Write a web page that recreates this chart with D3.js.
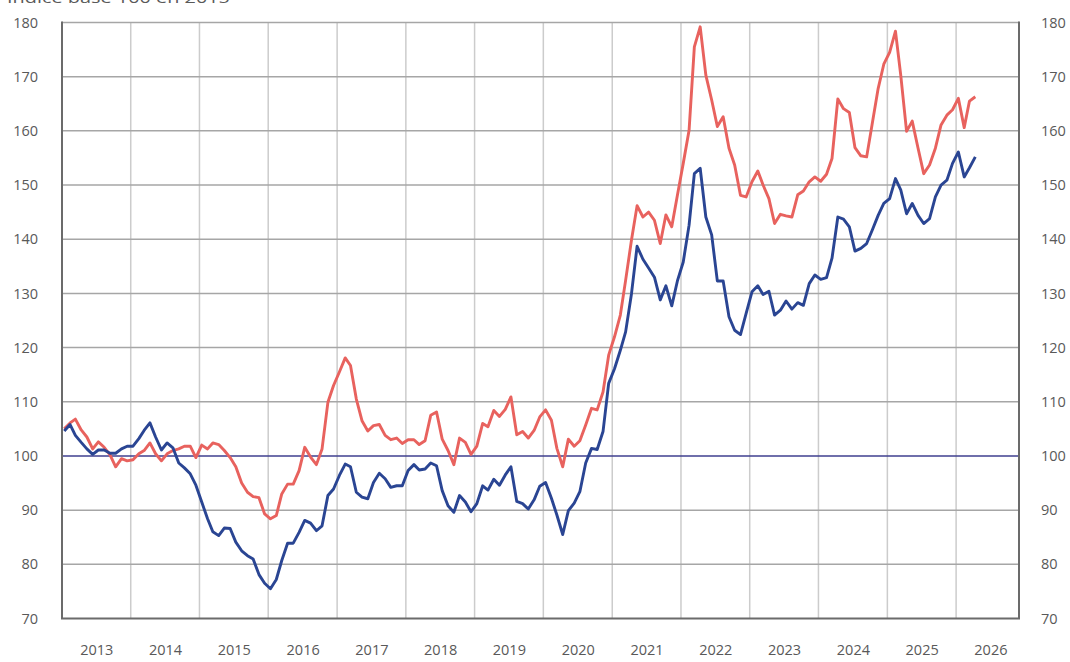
<!DOCTYPE html>
<html>
<head>
<meta charset="utf-8">
<script src="https://cdn.jsdelivr.net/npm/d3@7"></script>
<style>
  html, body { margin: 0; padding: 0; background: #fff; }
  svg { display: block; }
  text { font-family: "Open Sans", "Noto Sans", sans-serif; }
</style>
</head>
<body>
<svg id="chart" width="1070" height="662"></svg>
<script>
// ---- Data (monthly, starting January 2013) ----
const startYear = 2013;
const yearLabels = ["2013","2014","2015","2016","2017","2018","2019","2020","2021","2022","2023","2024","2025","2026"];
const yTicks = [70, 80, 90, 100, 110, 120, 130, 140, 150, 160, 170, 180];
const titleText = "Indice base 100 en 2015";

const blueValues = [
  104.6,105.8,103.8,102.5,101.3,100.3,101.1,101.1,100.5,100.5,101.3,101.8, // 2013
  101.8,103.2,104.7,106.1,103.5,101.1,102.4,101.5,98.7,97.8,96.7,94.6,     // 2014
  91.5,88.4,86.0,85.3,86.7,86.6,84.1,82.5,81.6,81.0,78.1,76.5,             // 2015
  75.5,77.2,80.7,83.9,83.9,85.9,88.1,87.6,86.2,87.1,92.7,93.9,             // 2016
  96.4,98.5,98.0,93.3,92.4,92.1,95.1,96.8,95.8,94.2,94.5,94.5,             // 2017
  97.3,98.4,97.4,97.6,98.7,98.2,93.6,90.8,89.6,92.7,91.5,89.7,             // 2018
  91.2,94.5,93.7,95.7,94.6,96.5,98.0,91.6,91.2,90.2,91.9,94.4,             // 2019
  95.1,92.2,89.1,85.5,89.9,91.3,93.4,98.7,101.4,101.2,104.5,113.4,         // 2020
  116.1,119.5,122.9,129.9,138.7,136.3,134.7,133.0,128.8,131.4,127.7,132.3, // 2021
  135.8,142.6,152.1,153.1,144.1,140.8,132.3,132.3,125.7,123.2,122.4,126.3, // 2022
  130.3,131.4,129.8,130.4,126.0,126.9,128.6,127.1,128.3,127.8,131.8,133.4, // 2023
  132.6,132.9,136.5,144.1,143.7,142.3,137.8,138.3,139.2,141.7,144.4,146.6, // 2024
  147.5,151.2,149.1,144.7,146.6,144.4,142.9,143.8,147.8,150.0,150.9,154.0, // 2025
  156.1,151.5,153.2,155.2                                                  // 2026
];

const redValues = [
  105.0,106.1,106.8,104.8,103.5,101.3,102.6,101.6,100.2,98.0,99.5,99.1,    // 2013
  99.3,100.4,101.0,102.4,100.4,99.1,100.4,101.0,101.3,101.8,101.8,99.7,    // 2014
  102.0,101.3,102.4,102.1,101.0,99.7,98.0,95.0,93.3,92.5,92.3,89.3,        // 2015
  88.4,89.0,93.0,94.8,94.8,97.3,101.6,99.8,98.4,101.3,109.9,113.0,         // 2016
  115.5,118.1,116.7,110.5,106.5,104.6,105.6,105.8,103.8,103.0,103.3,102.3, // 2017
  103.0,103.0,102.1,102.8,107.5,108.1,103.1,101.0,98.4,103.3,102.5,100.3,  // 2018
  101.8,106.0,105.4,108.4,107.3,108.6,110.9,103.9,104.5,103.3,104.7,107.2, // 2019
  108.5,106.6,101.4,98.0,103.1,101.8,102.8,105.7,108.8,108.5,111.8,118.6,  // 2020
  122.0,126.0,132.4,139.8,146.2,144.1,145.0,143.5,139.2,144.5,142.3,148.1, // 2021
  154.0,160.1,175.5,179.2,170.3,165.7,160.8,162.6,156.8,153.7,148.1,147.8, // 2022
  150.6,152.6,150.0,147.5,142.9,144.6,144.3,144.1,148.2,148.9,150.6,151.5, // 2023
  150.7,152.0,154.9,165.9,164.1,163.4,156.9,155.4,155.2,161.4,167.8,172.3, // 2024
  174.5,178.4,170.3,159.9,161.8,156.8,152.1,153.7,156.8,161.1,162.9,163.9, // 2025
  166.0,160.6,165.5,166.3                                                  // 2026
];

// ---- Layout ----
const svg = d3.select("#chart");
const mLeft = 62, mRight = 1019, mTop = 22.5, mBottom = 618.5;

const x = d3.scaleTime()
  .domain([new Date(2013, 0, 1), new Date(2026, 11, 1)])
  .range([mLeft, mRight]);
const y = d3.scaleLinear().domain([70, 180]).range([mBottom, mTop]);

const dateOf = i => new Date(startYear + Math.floor(i / 12), i % 12, 13);
const blueData = blueValues.map((v, i) => ({ date: dateOf(i), value: v }));
const redData = redValues.map((v, i) => ({ date: dateOf(i), value: v }));

const labelColor = "#595959";

// Title (partially cropped at top, as in the source)
svg.append("text")
  .attr("x", 7).attr("y", 3)
  .attr("font-size", 15)
  .attr("fill", labelColor)
  .attr("textLength", 223)
  .attr("lengthAdjust", "spacingAndGlyphs")
  .text(titleText);

// Vertical grid lines (year boundaries)
const yearStarts = yearLabels.slice(1).map(s => new Date(+s, 0, 1));
svg.append("g")
  .selectAll("line")
  .data(yearStarts)
  .join("line")
  .attr("x1", d => x(d)).attr("x2", d => x(d))
  .attr("y1", mTop).attr("y2", mBottom)
  .attr("stroke", "#cccccc")
  .attr("stroke-width", 1.5);

// Horizontal grid lines
svg.append("g")
  .selectAll("line")
  .data(yTicks.filter(t => t !== 70 && t !== 100))
  .join("line")
  .attr("x1", mLeft).attr("x2", mRight)
  .attr("y1", d => y(d)).attr("y2", d => y(d))
  .attr("stroke", "#a6a6a6")
  .attr("stroke-width", 1.5);

// Reference line at 100
svg.append("line")
  .attr("x1", mLeft).attr("x2", mRight)
  .attr("y1", y(100)).attr("y2", y(100))
  .attr("stroke", "#3f3f8f")
  .attr("stroke-width", 1.5);

// Axes frame (left, bottom, right)
svg.append("path")
  .attr("d", `M${mLeft},${mTop - 1}V${y(70)}H${mRight}V${mTop - 1}`)
  .attr("fill", "none")
  .attr("stroke", "#6b6b6b")
  .attr("stroke-width", 2);

// Y tick labels (left and right)
const yLeftAxis = d3.axisLeft(y).tickValues(yTicks).tickSize(0).tickPadding(0);
const gl = svg.append("g").attr("transform", `translate(38,0)`).call(yLeftAxis);
const yRightAxis = d3.axisRight(y).tickValues(yTicks).tickSize(0).tickPadding(0);
const gr = svg.append("g").attr("transform", `translate(1041,0)`).call(yRightAxis);
[gl, gr].forEach(g => {
  g.select(".domain").remove();
  g.selectAll("text")
    .attr("font-family", '"Open Sans", sans-serif')
    .attr("font-size", 14.5)
    .attr("fill", labelColor);
});

// X labels centered in each year
const xAxis = d3.axisBottom(x)
  .tickValues(yearLabels.map(s => new Date(+s, 6, 2)))
  .tickFormat((d, i) => yearLabels[i])
  .tickSize(0).tickPadding(0);
const gx = svg.append("g").attr("transform", `translate(0,645)`).call(xAxis);
gx.select(".domain").remove();
gx.selectAll("text")
  .attr("font-family", '"Open Sans", sans-serif')
  .attr("font-size", 14.5)
  .attr("fill", labelColor);

// Lines
const line = d3.line().x(d => x(d.date)).y(d => y(d.value));
svg.append("path")
  .datum(redData)
  .attr("fill", "none")
  .attr("stroke", "#e8625e")
  .attr("stroke-width", 2.9)
  .attr("stroke-linejoin", "round")
  .attr("d", line);
svg.append("path")
  .datum(blueData)
  .attr("fill", "none")
  .attr("stroke", "#2a4593")
  .attr("stroke-width", 2.9)
  .attr("stroke-linejoin", "round")
  .attr("d", line);
</script>
</body>
</html>
